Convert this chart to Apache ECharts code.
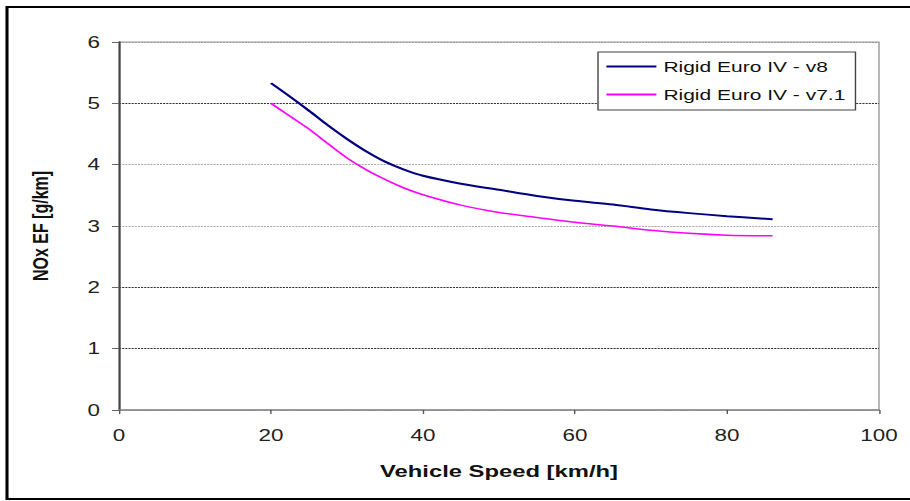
<!DOCTYPE html>
<html>
<head>
<meta charset="utf-8">
<script src="https://cdn.jsdelivr.net/npm/echarts@6/dist/echarts.min.js"></script>
<style>
  html, body { margin: 0; padding: 0; background: #fff; overflow: hidden; }
  #wrap { width: 910px; height: 501px; overflow: hidden; position: relative; }
  /* The chart is laid out narrower and stretched horizontally, giving the wide lettering */
  #chart { position: absolute; left: 0; top: 0; height: 501px; transform-origin: 0 0; }
</style>
</head>
<body>
<div id="wrap"><div id="chart"></div></div>
<script>
// Vehicle speed samples [km/h]
const speeds = [20, 22.5, 25, 27.5, 30, 32.5, 35, 37.5, 40, 45, 50, 55, 60, 65, 70, 75, 80, 86];
// NOx emission factors [g/km]
const euroIVv8  = [5.33, 5.11, 4.88, 4.64, 4.42, 4.22, 4.05, 3.92, 3.82, 3.69, 3.59, 3.49, 3.41, 3.35, 3.27, 3.21, 3.16, 3.11];
const euroIVv71 = [5.00, 4.79, 4.58, 4.34, 4.11, 3.92, 3.76, 3.62, 3.51, 3.34, 3.22, 3.14, 3.06, 3.00, 2.93, 2.88, 2.85, 2.84];
const seriesNames = ['Rigid Euro IV - v8', 'Rigid Euro IV - v7.1'];
const xTicks = [0, 20, 40, 60, 80, 100];
const yTicks = [0, 1, 2, 3, 4, 5, 6];

const STRETCH = 1.4;          // horizontal stretch of the whole drawing
const sx = v => v / STRETCH;  // convert a screen x-distance to layout units

const el = document.getElementById('chart');
el.style.width = sx(910) + 'px';
el.style.transform = 'scaleX(' + STRETCH + ')';

const pairs = (xs, ys) => xs.map((x, i) => [x, ys[i]]);
const FONT = "'Liberation Sans', Arial, sans-serif";

const chart = echarts.init(el, null, { renderer: 'svg' });
chart.setOption({
  backgroundColor: '#fff',
  animation: false,
  graphic: [{
    type: 'rect',
    shape: { x: sx(7), y: 7, width: 700, height: 492 },
    style: { fill: 'none', stroke: '#000', lineWidth: 2.2 },
    z: 100
  }],
  grid: {
    left: sx(119), right: sx(31), top: 42, bottom: 91,
    show: true, borderColor: '#999', borderWidth: 1, backgroundColor: '#fff'
  },
  legend: {
    orient: 'vertical',
    left: sx(598), top: 52,
    padding: [7, sx(10), 8, sx(7)],
    itemWidth: sx(50), itemHeight: 14, itemGap: 13,
    backgroundColor: '#fff',
    borderColor: '#444', borderWidth: 1,
    itemStyle: { opacity: 0 },
    textStyle: { fontFamily: FONT, fontSize: 15, color: '#111' },
    data: seriesNames
  },
  xAxis: {
    type: 'value',
    min: xTicks[0], max: xTicks[xTicks.length - 1], interval: 20,
    name: 'Vehicle Speed [km/h]',
    nameLocation: 'middle', nameGap: 52,
    nameTextStyle: { fontFamily: FONT, fontWeight: 'bold', fontSize: 17, color: '#111' },
    axisLine: { lineStyle: { color: '#888', width: 1.5 } },
    axisTick: { show: true, length: 4, lineStyle: { color: '#555' } },
    axisLabel: { fontFamily: FONT, fontSize: 16, color: '#222', margin: 17 },
    splitLine: { show: false }
  },
  yAxis: {
    type: 'value',
    min: yTicks[0], max: yTicks[yTicks.length - 1], interval: 1,
    name: 'NOx EF [g/km]',
    nameLocation: 'middle', nameGap: sx(68), nameRotate: 90,
    nameTextStyle: { fontFamily: FONT, fontWeight: 'bold', fontSize: 16, color: '#111' },
    axisLine: { show: true, lineStyle: { color: '#444', width: 1.4 } },
    axisTick: { show: true, length: sx(7), lineStyle: { color: '#666' } },
    axisLabel: { fontFamily: FONT, fontSize: 16, color: '#222', margin: sx(19) },
    splitLine: {
      show: true,
      lineStyle: {
        color: ['#999', '#333', '#333', '#aaa', '#aaa', '#333', '#999'],
        type: [1.5, 0.75], width: 1
      }
    }
  },
  series: [
    {
      name: seriesNames[0], type: 'line', smooth: 0.3, symbol: 'none',
      data: pairs(speeds, euroIVv8),
      lineStyle: { color: '#000080', width: 2 }, itemStyle: { color: '#000080' },
      z: 3
    },
    {
      name: seriesNames[1], type: 'line', smooth: 0.3, symbol: 'none',
      data: pairs(speeds, euroIVv71),
      lineStyle: { color: '#ff00ff', width: 1.5 }, itemStyle: { color: '#ff00ff' },
      z: 2
    }
  ]
});
</script>
</body>
</html>
